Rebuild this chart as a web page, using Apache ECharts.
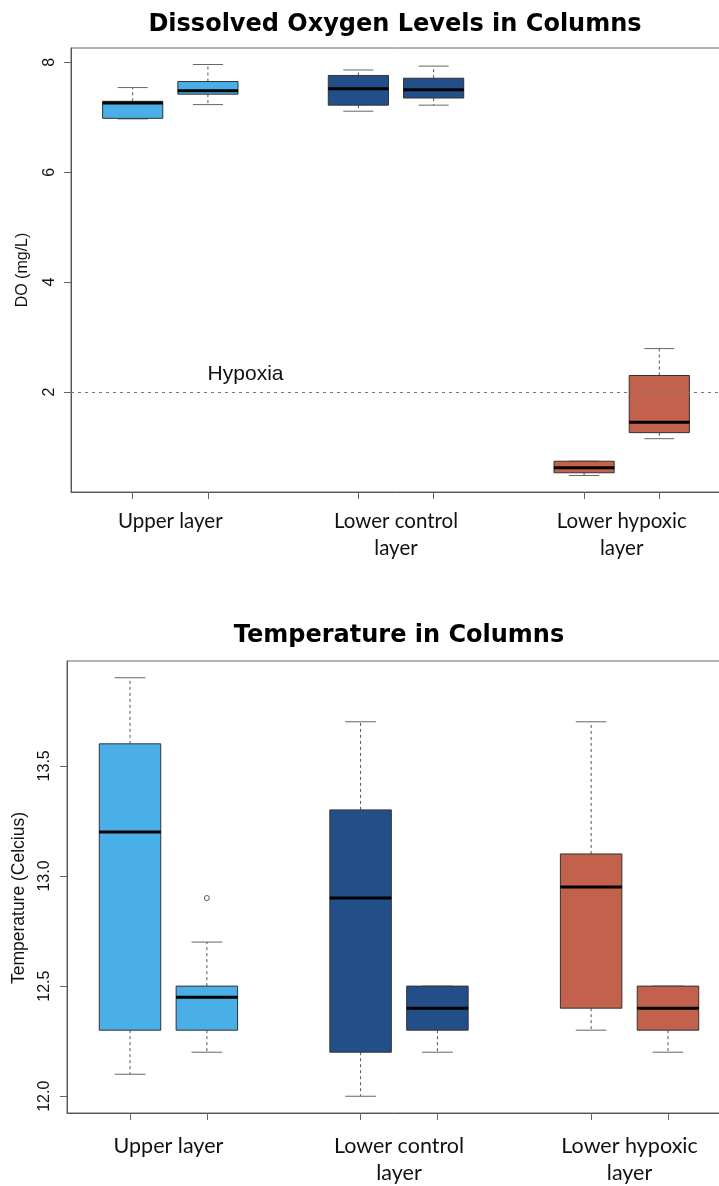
<!DOCTYPE html>
<html>
<head>
<meta charset="utf-8">
<script src="https://cdn.jsdelivr.net/npm/echarts@6/dist/echarts.min.js"></script>
<style>
  html, body { margin: 0; padding: 0; background: #fff; }
  #chart { width: 719px; height: 1186px; }
</style>
</head>
<body>
<div id="chart"></div>
<script>
// groups on the x axis, boxes sit at slots 1,2 / 4,5 / 7,8 (R boxplot "at")
var groupNames = ['Upper layer', 'Lower control\nlayer', 'Lower hypoxic\nlayer'];
var groupCenters = [1.5, 4.5, 7.5];
var boxSlots = [1, 2, 4, 5, 7, 8];

// [min, Q1, median, Q3, max] for each box
var doBoxes = [
    [6.97, 6.98, 7.26, 7.29, 7.54],
    [7.23, 7.42, 7.48, 7.65, 7.96],
    [7.11, 7.22, 7.52, 7.76, 7.86],
    [7.22, 7.35, 7.50, 7.71, 7.93],
    [0.48, 0.53, 0.62, 0.74, 0.74],
    [1.15, 1.26, 1.45, 2.30, 2.79]
];
var tempBoxes = [
    [12.1, 12.3, 13.2, 13.6, 13.9],
    [12.2, 12.3, 12.45, 12.5, 12.7],
    [12.0, 12.2, 12.9, 13.3, 13.7],
    [12.2, 12.3, 12.4, 12.5, 12.5],
    [12.3, 12.4, 12.95, 13.1, 13.7],
    [12.2, 12.3, 12.4, 12.5, 12.5]
];
// outliers: [slot, value]
var tempOutliers = [[2, 12.9]];

var doTicks = [2, 4, 6, 8];
var tempTicks = [12.0, 12.5, 13.0, 13.5];
var hypoxiaLevel = 2;

var groupColors = ['#4aafe6', '#234f89', '#c2614c'];

function boxData(stats) {
    return stats.map(function (s, i) {
        return [boxSlots[i]].concat(s);
    });
}

function renderBox(params, api) {
    var x = api.value(0);
    var lo = api.value(1), q1 = api.value(2), med = api.value(3), q3 = api.value(4), hi = api.value(5);
    var bl = api.coord([x - 0.4, q1]);
    var tr = api.coord([x + 0.4, q3]);
    var cx = api.coord([x, med])[0];
    var capL = api.coord([x - 0.2, hi])[0];
    var capR = api.coord([x + 0.2, hi])[0];
    var yMed = api.coord([x, med])[1];
    var yHi = api.coord([x, hi])[1];
    var yLo = api.coord([x, lo])[1];
    var color = groupColors[Math.floor(params.dataIndex / 2)];
    var whisker = { stroke: '#555', lineWidth: 1, lineDash: [3, 3] };
    var cap = { stroke: '#666', lineWidth: 1 };
    return {
        type: 'group',
        children: [
            { type: 'line', shape: { x1: cx, y1: tr[1], x2: cx, y2: yHi }, style: whisker },
            { type: 'line', shape: { x1: cx, y1: bl[1], x2: cx, y2: yLo }, style: whisker },
            { type: 'line', shape: { x1: capL, y1: yHi, x2: capR, y2: yHi }, style: cap },
            { type: 'line', shape: { x1: capL, y1: yLo, x2: capR, y2: yLo }, style: cap },
            { type: 'rect', shape: { x: bl[0], y: tr[1], width: tr[0] - bl[0], height: bl[1] - tr[1] },
              style: { fill: color, stroke: '#333', lineWidth: 1 } },
            { type: 'line', shape: { x1: bl[0], y1: yMed, x2: tr[0], y2: yMed }, style: { stroke: '#000', lineWidth: 3 } }
        ]
    };
}

function xAxisFor(gridIndex, margin, size, lineHeight) {
    return {
        type: 'value', gridIndex: gridIndex, min: 0.18, max: 8.82,
        axisLine: { show: true, lineStyle: { color: '#555' } },
        axisTick: { show: true, length: 7, customValues: boxSlots, lineStyle: { color: '#666' } },
        axisLabel: {
            customValues: groupCenters, margin: margin,
            fontFamily: 'Lato', fontSize: size, lineHeight: lineHeight, color: '#111',
            formatter: function (v) { return groupNames[groupCenters.indexOf(v)]; }
        },
        splitLine: { show: false }
    };
}

function yAxisFor(gridIndex, min, max, ticks, name, digits, nameSize, nameGap, namePad, margin) {
    return {
        type: 'value', gridIndex: gridIndex, min: min, max: max,
        name: name, nameLocation: 'middle', nameGap: nameGap,
        nameTextStyle: { fontFamily: 'Liberation Sans', fontSize: nameSize, color: '#111', padding: namePad },
        axisLine: { show: true, lineStyle: { color: '#555' } },
        axisTick: { show: true, length: 7, customValues: ticks, lineStyle: { color: '#666' } },
        axisLabel: {
            customValues: ticks, rotate: 90, margin: margin,
            fontFamily: 'Liberation Sans', fontSize: 16, color: '#111',
            formatter: function (v) { return v.toFixed(digits); }
        },
        splitLine: { show: false }
    };
}

var chart = echarts.init(document.getElementById('chart'));
chart.setOption({
    backgroundColor: '#fff',
    animation: false,
    title: [
        { text: 'Dissolved Oxygen Levels in Columns', left: 390, top: 8, textAlign: 'center',
          textStyle: { fontFamily: 'DejaVu Sans', fontWeight: 'bold', fontSize: 24, color: '#000' } },
        { text: 'Temperature in Columns', left: 394, top: 619, textAlign: 'center',
          textStyle: { fontFamily: 'DejaVu Sans', fontWeight: 'bold', fontSize: 24, color: '#000' } }
    ],
    // plot boxes run a little past the right edge, as in the cropped original
    grid: [
        { left: 71, top: 48, width: 650, height: 444, outerBoundsMode: 'none', containLabel: false,
          show: true, borderColor: '#666', borderWidth: 1, backgroundColor: '#fff' },
        { left: 67, top: 661, width: 664, height: 452, outerBoundsMode: 'none', containLabel: false,
          show: true, borderColor: '#666', borderWidth: 1, backgroundColor: '#fff' }
    ],
    xAxis: [xAxisFor(0, 16, 20.5, 27), xAxisFor(1, 19, 21.5, 27.5)],
    yAxis: [
        yAxisFor(0, 0.18, 8.26, doTicks, 'DO (mg/L)', 0, 16, 40, 0, 13.5),
        yAxisFor(1, 11.924, 13.976, tempTicks, 'Temperature (Celcius)', 1, 17.5, 39, [0, 22, 0, 0], 14.5)
    ],
    series: [
        {
            type: 'line', xAxisIndex: 0, yAxisIndex: 0, data: [], z: 1,
            markLine: {
                silent: true, symbol: 'none', label: { show: false },
                lineStyle: { type: [3, 4], color: '#777', width: 1 },
                data: [{ yAxis: hypoxiaLevel }]
            },
            markPoint: {
                silent: true, symbolSize: 0,
                label: { show: true, position: 'inside', fontFamily: 'Liberation Sans', fontSize: 21, color: '#111' },
                data: [{ coord: [2.5, 2.32], value: 'Hypoxia' }]
            }
        },
        {
            type: 'custom', xAxisIndex: 0, yAxisIndex: 0, z: 3,
            renderItem: renderBox, data: boxData(doBoxes),
            encode: { x: 0, y: [1, 2, 3, 4, 5] }
        },
        {
            type: 'custom', xAxisIndex: 1, yAxisIndex: 1, z: 3,
            renderItem: renderBox, data: boxData(tempBoxes),
            encode: { x: 0, y: [1, 2, 3, 4, 5] }
        },
        {
            type: 'scatter', xAxisIndex: 1, yAxisIndex: 1, z: 4,
            symbol: 'circle', symbolSize: 5,
            itemStyle: { color: '#fff', borderColor: '#333', borderWidth: 1 },
            data: tempOutliers
        }
    ]
});
</script>
</body>
</html>
